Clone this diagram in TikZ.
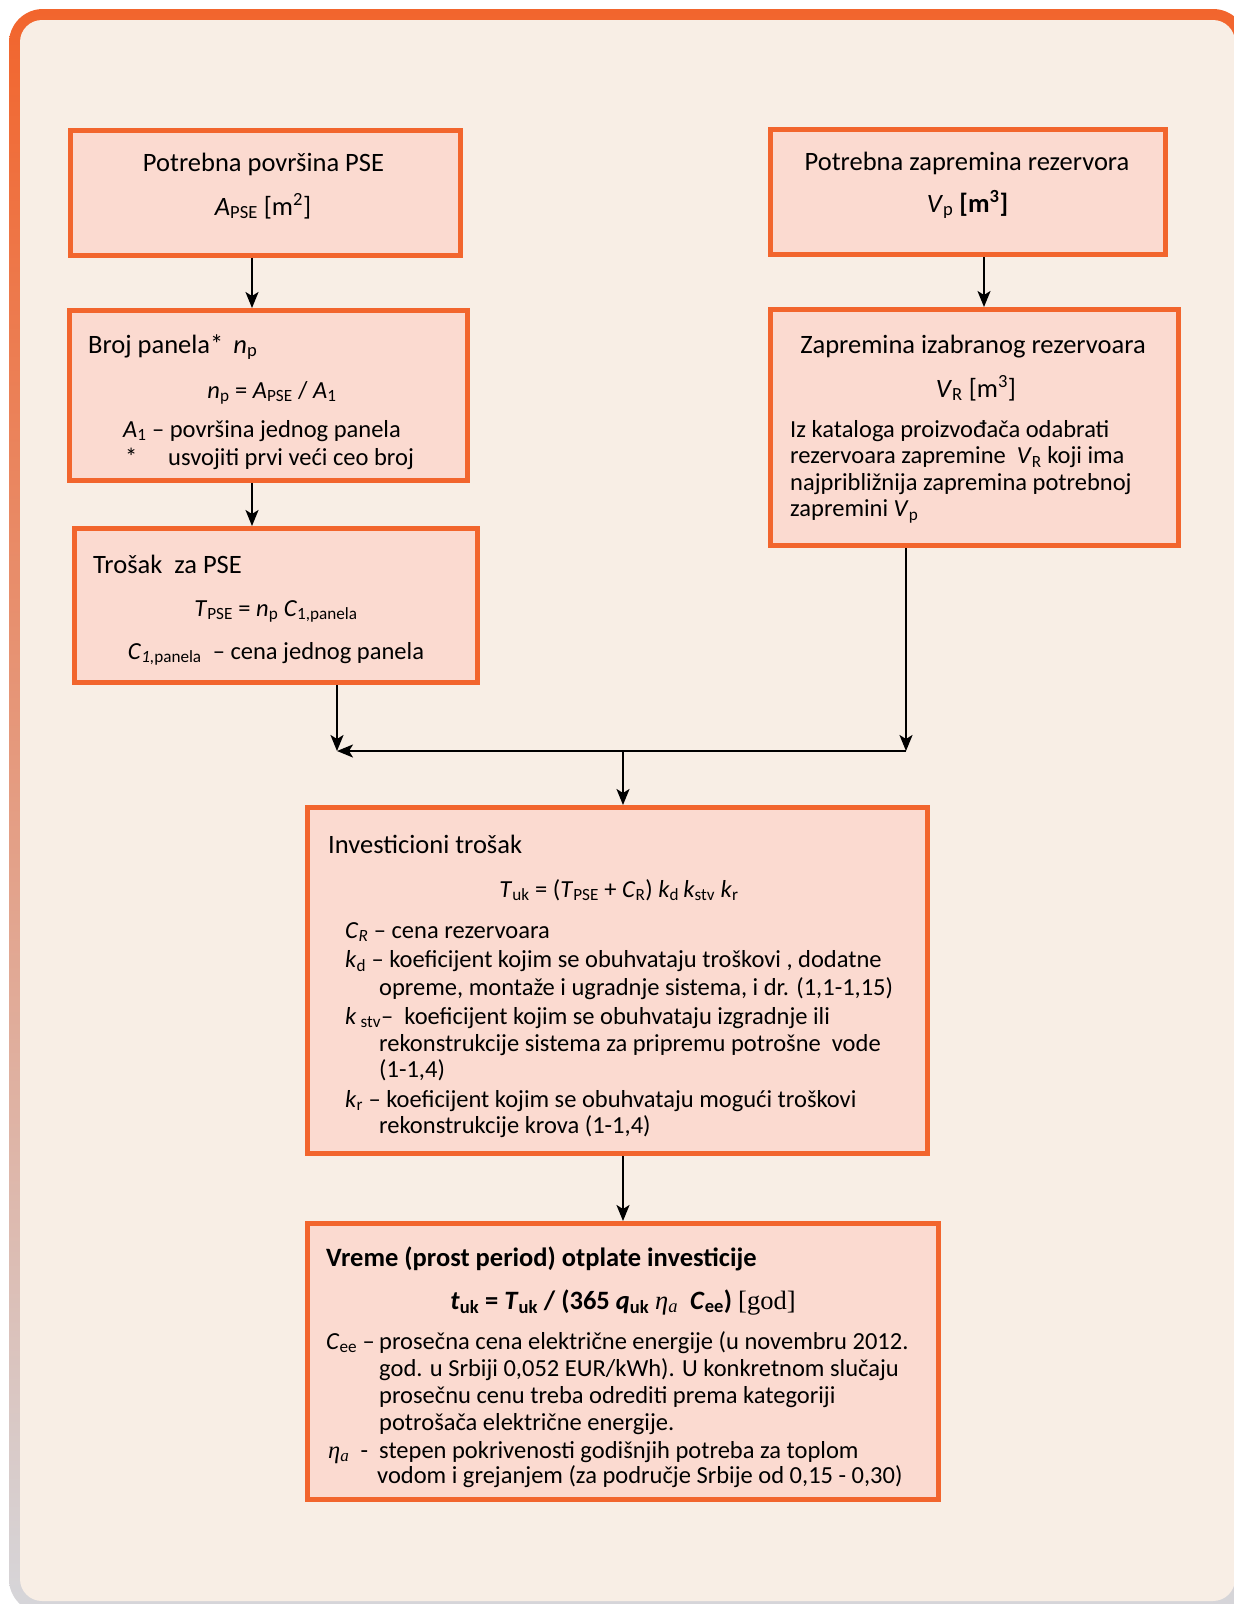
\documentclass[tikz,border=0pt]{standalone}
\usepackage{fontspec}
\setmainfont{Carlito}
\newfontfamily\cambria{Liberation Serif}
\usetikzlibrary{arrows.meta}

\definecolor{rimorange}{RGB}{242,101,45}
\definecolor{rimgrey}{RGB}{214,214,218}
\definecolor{cream}{RGB}{248,238,229}
\definecolor{boxpink}{RGB}{251,218,208}

\newcommand{\etaa}{{\cambria\textit{η}\textsubscript{\textit{a}}}}

\tikzset{
  box/.style={draw=rimorange, line width=5pt, fill=boxpink, inner sep=0pt},
  arr/.style={-{Stealth[length=16pt, width=13pt, inset=4pt]}, line width=2pt},
  title/.style={font=\fontsize{26.5}{30}\selectfont, inner sep=0pt},
  body/.style={font=\fontsize{24.5}{27}\selectfont, inner sep=0pt}
}

\begin{document}
\begin{tikzpicture}[x=1pt, y=-1pt]
  \useasboundingbox (0,0) rectangle (1234,1604);
  \fill[white] (0,0) rectangle (1234,1604);
  \shade[top color=rimorange, middle color=rimorange, bottom color=rimgrey, rounded corners=34pt]
    (9,9) rectangle (1247,1613);
  \fill[cream, rounded corners=22pt] (20,20) rectangle (1235,1601);

  \node[box, minimum width=390pt, minimum height=125pt] (area) at (265,192.5) {};
  \node[box, minimum width=398pt, minimum height=170pt] (panels) at (268.5,395.5) {};
  \node[box, minimum width=403pt, minimum height=154pt] (cost) at (276,605.5) {};
  \node[box, minimum width=395pt, minimum height=125pt] (tank) at (968,192) {};
  \node[box, minimum width=408pt, minimum height=236pt] (chosen) at (974.5,427.5) {};
  \node[box, minimum width=620pt, minimum height=346pt] (invest) at (617.5,980.5) {};
  \node[box, minimum width=631pt, minimum height=276pt] (payback) at (623,1361.5) {};

  \node[title, anchor=base] (areaT) at (263.5,171.5) {Potrebna površina PSE};
  \node[title, anchor=base] (areaF) at (263,215) {\textit{A}\textsubscript{PSE} [m\textsuperscript{2}]};

  \node[title, anchor=base west] (panelsT) at (88,353) {Broj panela*\hspace{10pt}\textit{n}\textsubscript{p}};
  \node[body, anchor=base] (panelsF) at (272,398) {\textit{n}\textsubscript{p} = \textit{A}\textsubscript{PSE} / \textit{A}\textsubscript{1}};
  \node[body, anchor=base west] (panelsN1) at (123,437) {\textit{A}\textsubscript{1} – površina jednog panela};
  \node[body, anchor=base west] (panelsN2) at (125,465) {\makebox[43pt][l]{*}usvojiti prvi veći ceo broj};

  \node[title, anchor=base west] (costT) at (93,573) {Trošak\ \ za PSE};
  \node[body, anchor=base] (costF) at (276,616) {\textit{T}\textsubscript{PSE} = \textit{n}\textsubscript{p} \textit{C}\textsubscript{1,panela}};
  \node[body, anchor=base] (costN) at (276,659) {\textit{C}\textsubscript{\textit{1,}panela}\ \ – cena jednog panela};

  \node[title, anchor=base] (tankT) at (967,170) {Potrebna zapremina rezervora};
  \node[title, anchor=base] (tankF) at (967.5,212) {\textit{V}\textsubscript{p} \textbf{[m\textsuperscript{3}]}};

  \node[title, anchor=base] (chosenT) at (973,353) {Zapremina izabranog rezervoara};
  \node[title, anchor=base] (chosenF) at (976,397) {\textit{V}\textsubscript{R} [m\textsuperscript{3}]};
  \node[body, anchor=base west] (chosenN1) at (790,437) {Iz kataloga proizvođača odabrati};
  \node[body, anchor=base west] (chosenN2) at (790,463.5) {rezervoara zapremine\ \ \textit{V}\textsubscript{R} koji ima};
  \node[body, anchor=base west] (chosenN3) at (790,490) {najpribližnija zapremina potrebnoj};
  \node[body, anchor=base west] (chosenN4) at (790,516.5) {zapremini \textit{V}\textsubscript{p}};

  \node[title, anchor=base west] (investT) at (328,853) {Investicioni trošak};
  \node[body, anchor=base] (investF) at (619,897) {\textit{T}\textsubscript{uk} = (\textit{T}\textsubscript{PSE} + \textit{C}\textsubscript{R}) \textit{k}\textsubscript{d}\,\textit{k}\textsubscript{stv} \textit{k}\textsubscript{r}};
  \node[body, anchor=base west] (investN1) at (345,938) {\textit{C}\textsubscript{\textit{R}} – cena rezervoara};
  \node[body, anchor=base west] (investN2) at (345,967.5) {\textit{k}\textsubscript{d} – koeficijent kojim se obuhvataju troškovi , dodatne};
  \node[body, anchor=base west] (investN3) at (379,995) {opreme, montaže i ugradnje sistema, i dr. (1,1-1,15)};
  \node[body, anchor=base west] (investN4) at (345,1024) {\textit{k}\,\textsubscript{stv}–\ \ koeficijent kojim se obuhvataju izgradnje ili};
  \node[body, anchor=base west] (investN5) at (379,1051.5) {rekonstrukcije sistema za pripremu potrošne\ \ vode};
  \node[body, anchor=base west] (investN6) at (379,1077) {(1-1,4)};
  \node[body, anchor=base west] (investN7) at (345,1107) {\textit{k}\textsubscript{r} – koeficijent kojim se obuhvataju mogući troškovi};
  \node[body, anchor=base west] (investN8) at (379,1133.5) {rekonstrukcije krova (1-1,4)};

  \node[title, anchor=base west] (paybackT) at (326,1266) {\textbf{Vreme (prost period) otplate investicije}};
  \node[title, anchor=base] (paybackF) at (623,1309) {\textbf{\textit{t}\textsubscript{uk} = \textit{T}\textsubscript{uk} / (365 \textit{q}\textsubscript{uk}} \etaa\ \ \textbf{\textit{C}\textsubscript{ee})} {\cambria [god]}};
  \node[body, anchor=base west] (paybackN1) at (326,1349) {\makebox[53pt][l]{\textit{C}\textsubscript{ee} –}prosečna cena električne energije (u novembru 2012.};
  \node[body, anchor=base west] (paybackN2) at (379,1376.5) {god. u Srbiji 0,052 EUR/kWh). U konkretnom slučaju};
  \node[body, anchor=base west] (paybackN3) at (379,1403) {prosečnu cenu treba odrediti prema kategoriji};
  \node[body, anchor=base west] (paybackN4) at (379,1430) {potrošača električne energije.};
  \node[body, anchor=base west] (paybackN5) at (328,1458) {\makebox[51pt][l]{\etaa\ \ -}stepen pokrivenosti godišnjih potreba za toplom};
  \node[body, anchor=base west] (paybackN6) at (377,1483) {vodom i grejanjem (za područje Srbije od 0,15 - 0,30)};

  \coordinate (colL) at (252,0);
  \coordinate (colR) at (984,0);
  \coordinate (mergeL) at (337,751);
  \coordinate (mergeR) at (906,751);
  \coordinate (merge) at (623,751);

  \draw[arr] (area.south -| colL) -- (panels.north -| colL);
  \draw[arr] (panels.south -| colL) -- (cost.north -| colL);
  \draw[arr] (tank.south -| colR) -- (chosen.north -| colR);
  \draw[arr] (cost.south -| mergeL) -- (mergeL);
  \draw[arr] (chosen.south -| mergeR) -- (mergeR);
  \draw[arr] (mergeR) -- (mergeL);
  \draw[arr] (merge) -- (invest.north -| merge);
  \draw[arr] (invest.south -| merge) -- (payback.north -| merge);
\end{tikzpicture}
\end{document}
